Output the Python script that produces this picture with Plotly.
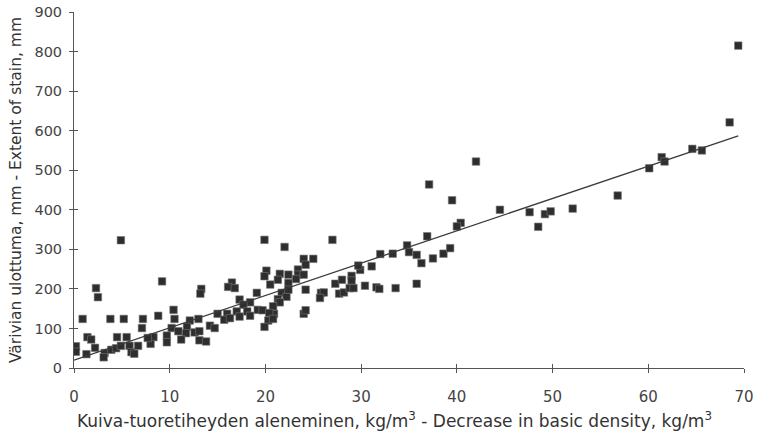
import plotly.graph_objects as go

# Decrease in basic density (kg/m3)
density_decrease = [
    4.9, 2.3, 2.5, 0.9, 3.8, 5.2, 7.2, 7.1, 1.4, 1.8, 4.5, 5.5, 0.2, 0.2, 2.2, 1.3, 3.2, 3.1,
    3.9, 4.4, 4.9, 5.8, 6.0, 6.7, 6.3,
    9.2, 13.3, 13.2, 8.8, 10.4, 10.5, 12.1, 13.0, 15.0, 10.2, 10.9, 11.8, 11.7, 9.7, 8.3, 8.0,
    7.7, 9.7, 11.2, 12.6, 13.1, 13.1, 13.8, 14.2, 14.7,
    19.9, 22.0, 16.5, 16.1, 16.8, 20.1, 19.9, 21.5, 21.3, 20.5, 22.4, 22.4, 19.1, 21.7, 22.2,
    21.3, 17.3, 18.4, 17.7, 21.5, 16.0, 17.0, 18.1, 19.2, 19.7, 20.9, 20.8, 15.7, 16.3, 17.3,
    18.4, 20.4, 20.3, 20.8, 19.9,
    27.0, 24.0, 25.0, 24.2, 23.4, 23.4, 24.0, 23.2, 22.4, 24.2, 25.8, 26.1, 25.7, 24.0, 24.2,
    27.3, 28.0, 29.0, 29.0, 29.9, 29.7, 31.1, 32.0, 27.7, 28.2, 28.8, 29.2, 30.4, 31.6, 31.9,
    42.0, 37.1, 39.5, 44.5, 47.6, 48.5, 40.4, 40.0, 36.9, 34.8, 33.3, 35.0, 35.8, 36.3, 37.5,
    38.6, 39.3, 33.6, 35.8, 49.2, 49.8, 52.1, 56.8, 60.1, 61.4, 61.7, 64.6, 65.6, 68.5, 69.4,
]
# Extent of stain (mm)
stain_extent = [
    323, 202, 179, 124, 124, 124, 124, 101, 78, 72, 78, 78, 55, 41, 51, 35, 38, 27,
    46, 50, 56, 56, 40, 56, 36,
    219, 200, 188, 132, 147, 124, 120, 124, 137, 101, 93, 104, 88, 82, 78, 61,
    76, 65, 72, 90, 93, 70, 67, 107, 101,
    324, 306, 216, 205, 202, 246, 232, 238, 223, 211, 236, 215, 190, 190, 180,
    174, 173, 166, 160, 166, 137, 143, 143, 147, 146, 137, 156, 122, 126, 130,
    132, 139, 120, 124, 104,
    324, 276, 276, 261, 249, 236, 236, 225, 198, 198, 190, 191, 177, 137, 146,
    213, 223, 233, 221, 248, 259, 257, 288, 188, 191, 202, 202, 208, 204, 200,
    522, 464, 424, 400, 394, 357, 367, 358, 333, 310, 289, 293, 286, 265, 277,
    289, 303, 202, 213, 389, 396, 403, 436, 505, 533, 522, 554, 550, 621, 815,
]

# Trend line endpoints
trend_x = [0, 69.4]
trend_y = [20, 587]

x_ticks = [0, 10, 20, 30, 40, 50, 60, 70]
y_ticks = [0, 100, 200, 300, 400, 500, 600, 700, 800, 900]

x_title = "Kuiva-tuoretiheyden aleneminen, kg/m<sup>3</sup> - Decrease in basic density, kg/m<sup>3</sup>"
y_title = "Värivian ulottuma, mm - Extent of stain, mm"

FONT = "DejaVu Sans"
AX = "#555555"
TXT = "#333333"

fig = go.Figure()
fig.add_trace(go.Scatter(
    x=density_decrease, y=stain_extent, mode="markers",
    marker=dict(symbol="square", size=7.5, color="#2e2e2e",
                line=dict(width=0.6, color="#777777")),
    showlegend=False, hoverinfo="x+y",
))
fig.add_trace(go.Scatter(
    x=trend_x, y=trend_y, mode="lines",
    line=dict(color="#3a3a3a", width=1.3),
    showlegend=False, hoverinfo="skip",
))
# invisible trace to keep the overlay axes (inner tick halves)
fig.add_trace(go.Scatter(x=[0], y=[0], xaxis="x2", yaxis="y2", mode="markers",
                         marker=dict(opacity=0), showlegend=False, hoverinfo="skip"))

common = dict(showgrid=False, zeroline=False, showline=True, linecolor=AX, linewidth=1,
              tickcolor=AX, tickwidth=1, ticklen=4, ticks="outside", automargin=False)
fig.update_layout(
    width=757, height=435,
    margin=dict(l=74, r=13, t=12, b=67),
    paper_bgcolor="white", plot_bgcolor="white",
    font=dict(family=FONT, color=TXT, size=14),
    xaxis=dict(range=[0, 70], tickvals=x_ticks, **common,
               tickfont=dict(size=15, color="#444444"), ticklabelstandoff=11),
    yaxis=dict(range=[0, 900], tickvals=y_ticks, **common,
               tickfont=dict(size=14.5, color="#444444"), ticklabelstandoff=4,
               title=dict(text=y_title, font=dict(size=15.5, color=TXT), standoff=8)),
    xaxis2=dict(range=[0, 70], tickvals=x_ticks, overlaying="x", anchor="y2", side="bottom",
                showgrid=False, zeroline=False, showline=False, showticklabels=False,
                ticks="inside", ticklen=4, tickcolor=AX, tickwidth=1),
    yaxis2=dict(range=[0, 900], tickvals=y_ticks, overlaying="y", anchor="x2", side="left",
                showgrid=False, zeroline=False, showline=False, showticklabels=False,
                ticks="inside", ticklen=4, tickcolor=AX, tickwidth=1),
    annotations=[dict(text=x_title, xref="paper", yref="paper", x=0.479, y=0,
                      yshift=-52, xanchor="center", yanchor="middle", showarrow=False,
                      font=dict(size=17, color=TXT))],
)

fig.write_html("out.html")
